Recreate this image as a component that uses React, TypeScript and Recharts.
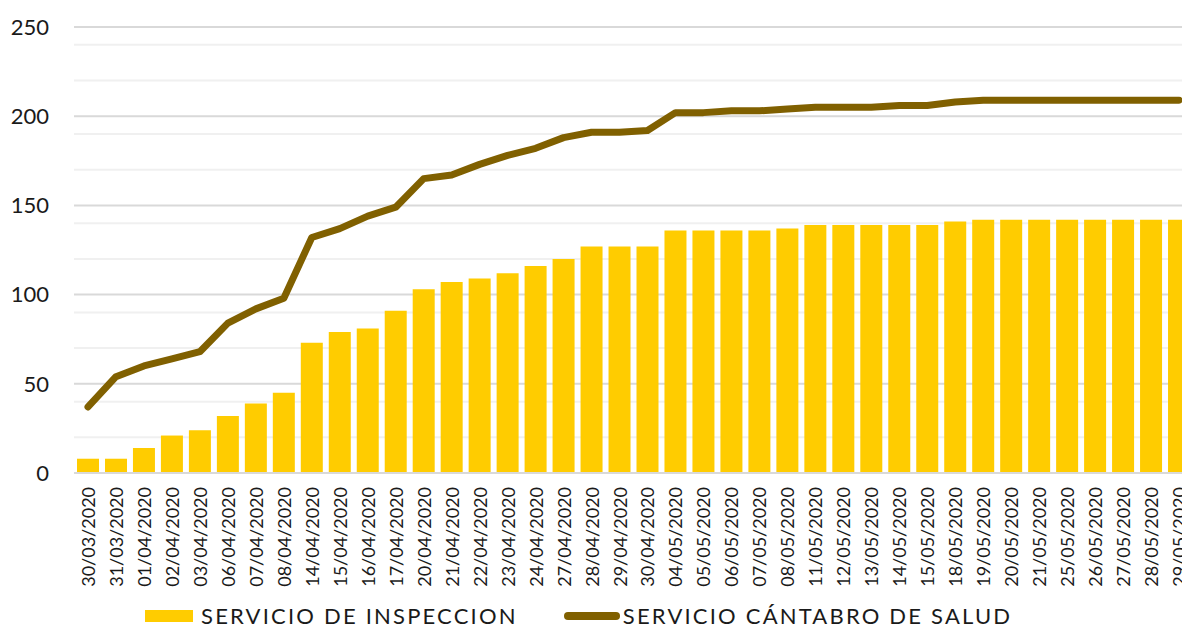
import { ComposedChart, Bar, Line, XAxis, YAxis, CartesianGrid, Legend } from "recharts";

const fechas = [
  "30/03/2020", "31/03/2020", "01/04/2020", "02/04/2020", "03/04/2020",
  "06/04/2020", "07/04/2020", "08/04/2020", "14/04/2020", "15/04/2020",
  "16/04/2020", "17/04/2020", "20/04/2020", "21/04/2020", "22/04/2020",
  "23/04/2020", "24/04/2020", "27/04/2020", "28/04/2020", "29/04/2020",
  "30/04/2020", "04/05/2020", "05/05/2020", "06/05/2020", "07/05/2020",
  "08/05/2020", "11/05/2020", "12/05/2020", "13/05/2020", "14/05/2020",
  "15/05/2020", "18/05/2020", "19/05/2020", "20/05/2020", "21/05/2020",
  "25/05/2020", "26/05/2020", "27/05/2020", "28/05/2020", "29/05/2020",
];

const inspeccion = [
  8, 8, 14, 21, 24, 32, 39, 45, 73, 79,
  81, 91, 103, 107, 109, 112, 116, 120, 127, 127,
  127, 136, 136, 136, 136, 137, 139, 139, 139, 139,
  139, 141, 142, 142, 142, 142, 142, 142, 142, 142,
];

const cantabroSalud = [
  37, 54, 60, 64, 68, 84, 92, 98, 132, 137,
  144, 149, 165, 167, 173, 178, 182, 188, 191, 191,
  192, 202, 202, 203, 203, 204, 205, 205, 205, 206,
  206, 208, 209, 209, 209, 209, 209, 209, 209, 209,
];

const yTicks = [0, 50, 100, 150, 200, 250];
const lineasMenores = [10, 20, 30, 40, 60, 70, 80, 90, 110, 120, 130, 140, 160, 170, 180, 190, 210, 220, 230, 240];

const FUENTE = "Lato, 'Open Sans', sans-serif";

// Etiqueta de fecha girada
function FechaTick({ x, y, payload }: any) {
  return (
    <text
      x={x}
      y={y}
      transform={`rotate(-90 ${x} ${y})`}
      textAnchor="end"
      dominantBaseline="central"
      fontSize={18}
      fontFamily={FUENTE}
      fill="#1a1a1a"
    >
      {payload.value}
    </text>
  );
}

function LeyendaPersonalizada({ payload }: any) {
  // barras primero, luego la línea
  const items = [...(payload || [])].sort((a: any, b: any) => (a.type === "rect" ? -1 : 0) - (b.type === "rect" ? -1 : 0));
  return (
    <div
      style={{
        display: "flex",
        alignItems: "center",
        height: 40,
        paddingLeft: 145,
        boxSizing: "border-box",
        fontFamily: FUENTE,
        fontSize: 22,
        letterSpacing: 2.2,
        lineHeight: "22px",
        color: "#1a1a1a",
      }}
    >
      {items.map((entry: any, i: number) => (
        <div key={i} style={{ display: "flex", alignItems: "center", marginLeft: i === 0 ? 0 : 46 }}>
          {entry.type === "line" ? (
            <span style={{ display: "inline-block", width: 56, height: 8, borderRadius: 4, background: entry.color, marginRight: 3 }} />
          ) : (
            <span style={{ display: "inline-block", width: 48, height: 12, background: entry.color, marginRight: 8 }} />
          )}
          <span>{entry.value}</span>
        </div>
      ))}
    </div>
  );
}

export default function App() {
  const data = fechas.map((fecha, i) => ({
    fecha,
    inspeccion: inspeccion[i],
    salud: cantabroSalud[i],
  }));

  return (
    <div style={{ width: 1182, height: 628, overflow: "hidden", position: "relative", background: "#fff" }}>
      <style>{"body{margin:0}"}</style>
      <ComposedChart
        width={1193}
        height={636}
        data={data}
        margin={{ top: 27, right: 0, bottom: 0, left: 0 }}
        barCategoryGap={3}
      >
        <CartesianGrid vertical={false} horizontalValues={lineasMenores} stroke="#f0f0f0" strokeWidth={2} />
        <CartesianGrid vertical={false} stroke="#d9d9d9" strokeWidth={2} />
        <XAxis
          dataKey="fecha"
          interval={0}
          tick={<FechaTick />}
          tickLine={false}
          tickSize={0}
          tickMargin={14}
          height={123}
          axisLine={{ stroke: "#d9d9d9", strokeWidth: 2 }}
        />
        <YAxis
          domain={[0, 250]}
          ticks={yTicks}
          axisLine={false}
          tickLine={false}
          tickSize={0}
          tickMargin={25}
          width={74}
          tick={{ fontSize: 22, fill: "#1a1a1a", fontFamily: FUENTE }}
        />
        <Legend verticalAlign="bottom" content={<LeyendaPersonalizada />} wrapperStyle={{ left: 0, width: 1193 }} />
        <Bar
          dataKey="inspeccion"
          name="SERVICIO DE INSPECCION"
          fill="#FFCC00"
          legendType="rect"
          isAnimationActive={false}
        />
        <Line
          type="linear"
          dataKey="salud"
          name="SERVICIO CÁNTABRO DE SALUD"
          stroke="#806000"
          strokeWidth={7}
          strokeLinecap="round"
          strokeLinejoin="round"
          dot={false}
          activeDot={false}
          legendType="line"
          isAnimationActive={false}
        />
      </ComposedChart>
    </div>
  );
}
